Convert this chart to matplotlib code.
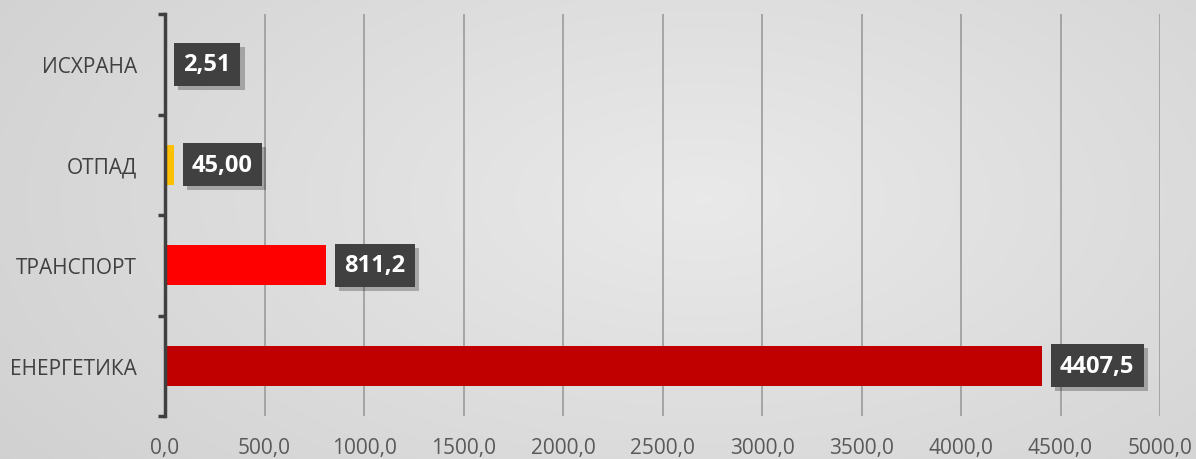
import numpy as np
import matplotlib
matplotlib.use("Agg")
import matplotlib.pyplot as plt
import matplotlib.patheffects as pe

plt.rcParams['font.family'] = ['Open Sans', 'DejaVu Sans']

# data
categories = ['ЕНЕРГЕТИКА', 'ТРАНСПОРТ', 'ОТПАД', 'ИСХРАНА']
values = [4407.5, 811.2, 45.00, 2.51]
value_labels = ['4407,5', '811,2', '45,00', '2,51']
bar_colors = ['#C00000', '#FF0000', '#FFC000', '#00B050']
xticks = [0, 500, 1000, 1500, 2000, 2500, 3000, 3500, 4000, 4500, 5000]

W, H = 1196, 460
fig = plt.figure(figsize=(W / 100, H / 100), dpi=100)

# radial grey background
bg = fig.add_axes([0, 0, 1, 1], zorder=-10)
yy, xx = np.mgrid[0:H, 0:W]
r = np.sqrt(((xx - 700) / 800.0) ** 2 + ((yy - 200) / 420.0) ** 2)
shade = 0.915 - 0.09 * np.clip(r, 0, 1.2)
bg.imshow(np.dstack([shade] * 3), aspect='auto', extent=[0, 1, 0, 1])
bg.axis('off')

ax = fig.add_axes([165 / W, 1 - 417 / H, (1160 - 165) / W, (417 - 15) / H])
ax.patch.set_alpha(0)

y = np.arange(len(categories))
ax.barh(y, values, height=0.4, color=bar_colors, zorder=3)

ax.set_xlim(0, 5000)
ax.set_ylim(-0.5, 3.5)
ax.set_xticks(xticks)
ax.set_xticklabels([f"{v:.1f}".replace('.', ',') for v in xticks])
ax.set_yticks(y)
ax.set_yticklabels(categories)
ax.set_yticks(np.arange(-0.5, 4.0, 1.0), minor=True)

for s in ['top', 'right', 'bottom']:
    ax.spines[s].set_visible(False)
ax.spines['left'].set_color('#404040')
ax.spines['left'].set_linewidth(2.5)
ax.spines['left'].set_zorder(4)

ax.tick_params(axis='y', which='major', length=0, pad=20, labelsize=15, labelcolor='#404040')
ax.tick_params(axis='y', which='minor', length=5, width=2.5, color='#404040', direction='out')
ax.tick_params(axis='x', length=0, pad=15, labelsize=15, labelcolor='#595959')

ax.grid(axis='x', color='#a0a0a0', linewidth=1.3, zorder=0)
ax.set_axisbelow(True)

# data labels in dark boxes with shadow
for yi, v, lab in zip(y, values, value_labels):
    t = ax.annotate(lab, xy=(v, yi), xytext=(18, 0), textcoords='offset pixels',
                    ha='left', va='center', fontsize=17, fontweight='bold', color='white',
                    bbox=dict(boxstyle='square,pad=0.4', fc='#404040', ec='none'),
                    zorder=6)
    t.get_bbox_patch().set_path_effects(
        [pe.SimplePatchShadow(offset=(3, -3), shadow_rgbFace='#000000', alpha=0.25), pe.Normal()])

fig.savefig('out.png', dpi=100)
